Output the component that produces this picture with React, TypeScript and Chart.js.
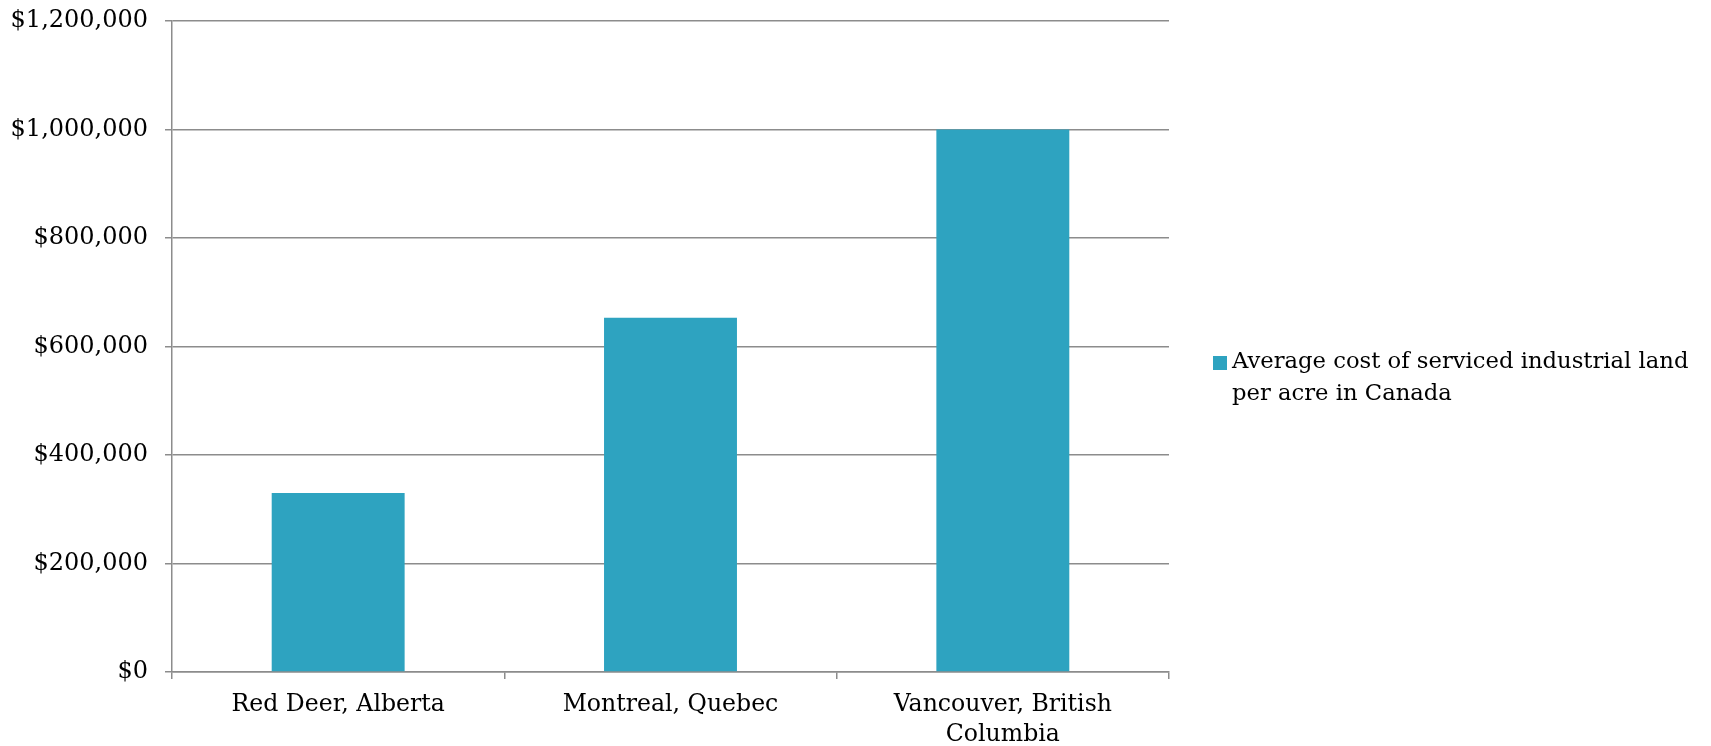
import React, { useEffect, useRef } from "react";
import { Chart, registerables } from "chart.js";

Chart.register(...registerables);

const categories: (string | string[])[] = [
  "Red Deer, Alberta",
  "Montreal, Quebec",
  ["Vancouver, British", "Columbia"],
];
const seriesLabel = "Average cost of serviced industrial land per acre in Canada";
const legendLines = ["Average cost of serviced industrial land", "per acre in Canada"];
const costValues = [330000, 653000, 1000000];
const yTicks = [0, 200000, 400000, 600000, 800000, 1000000, 1200000];

const FONT = "'DejaVu Serif', serif";
const BAR = "#2ea3c0";
const GRID = "#8c8c8c";

const legendPlugin = {
  id: "sideLegend",
  afterDraw(chart: any) {
    const ctx = chart.ctx;
    const ds = chart.data.datasets[0];
    ctx.save();
    ctx.fillStyle = ds.backgroundColor;
    ctx.fillRect(1213, 356, 14, 14);
    ctx.fillStyle = "#000";
    ctx.font = `22.7px ${FONT}`;
    ctx.textBaseline = "middle";
    ctx.textAlign = "left";
    legendLines.forEach((line, i) => {
      ctx.fillText(line, 1232, 362 + i * 32.5);
    });
    ctx.restore();
  },
};

export default function App() {
  const ref = useRef<HTMLCanvasElement>(null);
  useEffect(() => {
    if (!ref.current) return;
    const chart = new Chart(ref.current, {
      type: "bar",
      data: {
        labels: categories,
        datasets: [
          {
            label: seriesLabel,
            data: costValues,
            backgroundColor: BAR,
            borderWidth: 0,
            barPercentage: 0.4,
            categoryPercentage: 1,
          },
        ],
      },
      options: {
        animation: false,
        responsive: false,
        maintainAspectRatio: false,
        layout: { padding: { top: 0, right: 542, left: 0, bottom: 0 } },
        plugins: {
          legend: { display: false },
          tooltip: { enabled: false },
        },
        scales: {
          x: {
            grid: {
              display: true,
              drawOnChartArea: false,
              drawTicks: true,
              tickLength: 7,
              color: GRID,
              lineWidth: 1.5,
              offset: true,
            },
            border: { color: GRID, width: 1.5 },
            ticks: {
              color: "#000",
              font: { family: FONT, size: 23.6, lineHeight: 1.28 },
              padding: 11,
              maxRotation: 0,
              autoSkip: false,
            },
            afterFit(scale: any) {
              scale.height = 74;
            },
          },
          y: {
            min: 0,
            max: 1200000,
            afterBuildTicks(scale: any) {
              scale.ticks = yTicks.map((v) => ({ value: v }));
            },
            grid: {
              color: GRID,
              lineWidth: 1.5,
              tickLength: 7,
            },
            border: { color: GRID, width: 1.5 },
            ticks: {
              color: "#000",
              font: { family: FONT, size: 24 },
              padding: 17,
              callback: (v: any) => "$" + Number(v).toLocaleString("en-US"),
            },
            afterFit(scale: any) {
              scale.width = 172;
              scale.paddingTop = 21;
              scale.paddingBottom = 0;
            },
          },
        },
      },
      plugins: [legendPlugin],
    });
    return () => chart.destroy();
  }, []);
  return (
    <div style={{ position: "fixed", left: 0, top: 0, width: 1711, height: 746, background: "#fff" }}>
      <canvas ref={ref} width={1711} height={746} style={{ display: "block" }} />
    </div>
  );
}
